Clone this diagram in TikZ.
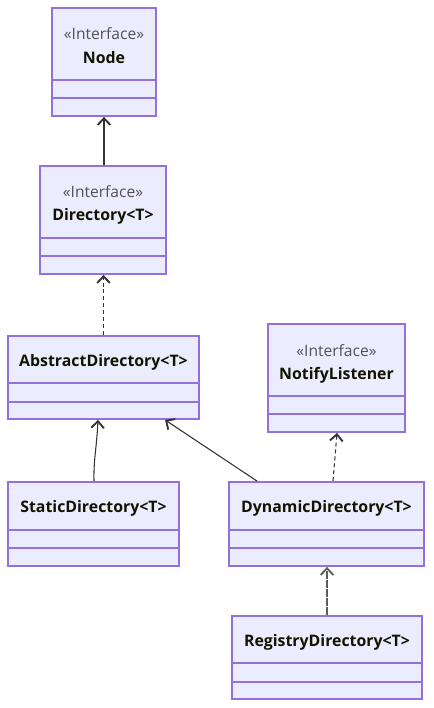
\documentclass[tikz,border=0pt]{standalone}
\usepackage{fontspec}
\setmainfont{Open Sans}
\usetikzlibrary{arrows.meta,calc}
\definecolor{bg}{HTML}{ECECFF}
\definecolor{bd}{HTML}{9370DB}
\definecolor{ln}{HTML}{333333}
\definecolor{tx}{HTML}{131300}
\tikzset{
  cls/.style={draw=bd, fill=bg, line width=1.4pt, rectangle, inner sep=0pt},
  divider/.style={draw=bd, line width=1.4pt},
  stereo/.style={font=\fontsize{11.7}{13}\selectfont, text=ln!85},
  cname/.style={font=\fontsize{11.9}{13}\selectfont\bfseries, text=tx},
  tip/.style={-{Straight Barb[length=5pt,width=9.5pt,line width=1.4pt]}},
  rel/.style={tip, draw=ln, line width=0.8pt},
  realz/.style={rel, dash pattern=on 3pt off 2.2pt},
}
% name, x1, y1, x2, y2, d1, d2  (pixel units, y downward)
\newcommand\clsbox[7]{%
  \node[cls, minimum width={(#4-#2)*0.75pt}, minimum height={(#5-#3)*0.75pt}]
    (#1) at ({(#2+#4)/2},{(#3+#5)/2}) {};
  \draw[divider] (#2,#6) -- (#4,#6);
  \draw[divider] (#2,#7) -- (#4,#7);
}
\begin{document}
\begin{tikzpicture}[x=0.75pt,y=-0.75pt]
\useasboundingbox (0,0) rectangle (433,708);

\clsbox{node}{52}{8}{156}{116}{80}{98}
\node[stereo] (node-s) at (104,33.5) {«Interface»};
\node[cname] (node-n) at (104,58) {Node};

\clsbox{dir}{40}{166}{166}{274}{238}{256}
\node[stereo] (dir-s) at (103,191.5) {«Interface»};
\node[cname] (dir-n) at (103,216) {Directory<T>};

\clsbox{abs}{8}{336}{199}{419}{383}{402}
\node[cname] (abs-n) at (103.5,362.5) {AbstractDirectory<T>};

\clsbox{nl}{268}{324}{405}{432}{396}{414}
\node[stereo] (nl-s) at (336.5,350.5) {«Interface»};
\node[cname] (nl-n) at (336.5,375) {NotifyListener};

\clsbox{sta}{8}{482}{179}{566}{530}{548}
\node[cname] (sta-n) at (93.5,508) {StaticDirectory<T>};

\clsbox{dyn}{229}{482}{424}{566}{530}{548}
\node[cname] (dyn-n) at (326.5,508) {DynamicDirectory<T>};

\clsbox{reg}{232}{616}{422}{699}{663}{682}
\node[cname] (reg-n) at (327,642.5) {RegistryDirectory<T>};

% connectors
\draw[rel] (node.south |- dir.north) -- (node.south);
\draw[realz] (abs.north) -- (abs.north |- dir.south);
\draw[rel] ($(sta.north)+(0.5,0)$) .. controls ($(sta.north)+(0,-22)$) and ($(abs.south)+(-7,30)$) .. ($(abs.south)+(-5.5,0)$);
\draw[rel] ($(dyn.north west)+(29,0)$) -- ($(abs.south west)+(158,0)$);
\draw[realz] ($(dyn.north)+(6.5,0)$) -- ($(nl.south)+(0.5,0)$);
\draw[rel, draw=ln!80, dash pattern=on 6pt off 0.8pt] (reg.north) -- (reg.north |- dyn.south);
\end{tikzpicture}
\end{document}
